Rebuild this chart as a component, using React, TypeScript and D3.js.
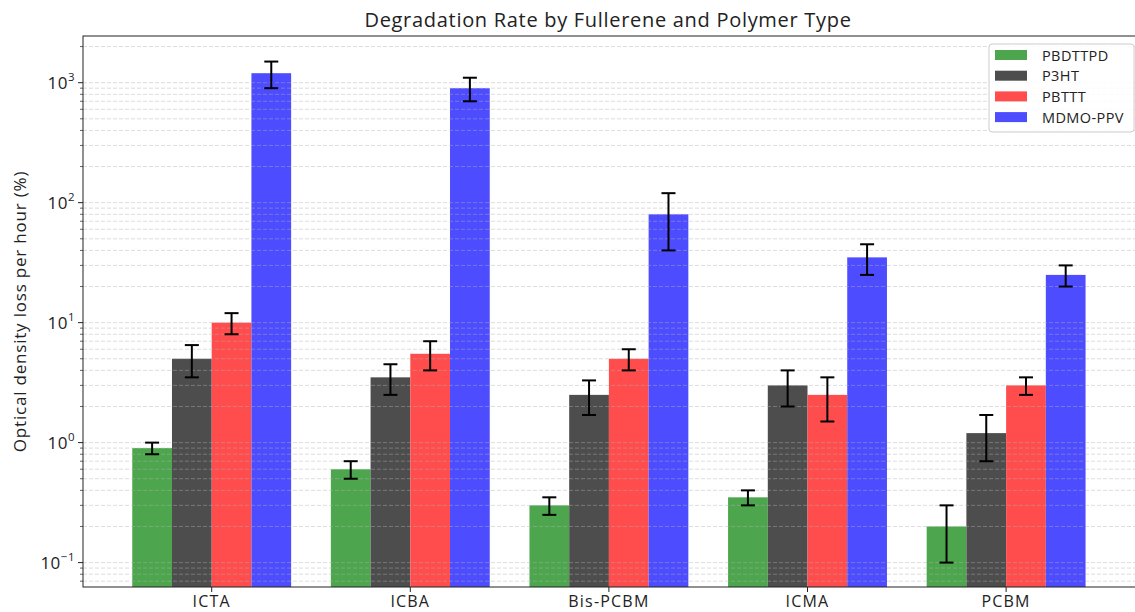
import React from "react";
import * as d3 from "d3";

const categories = ["ICTA", "ICBA", "Bis-PCBM", "ICMA", "PCBM"];
const seriesNames = ["PBDTTPD", "P3HT", "PBTTT", "MDMO-PPV"];
const seriesColors = ["#4da64d", "#4d4d4d", "#ff4d4d", "#4d4dff"];

const pbdttpdValues = [0.9, 0.6, 0.3, 0.35, 0.2];
const pbdttpdErrors = [0.1, 0.1, 0.05, 0.05, 0.1];
const p3htValues = [5, 3.5, 2.5, 3, 1.2];
const p3htErrors = [1.5, 1, 0.8, 1, 0.5];
const pbtttValues = [10, 5.5, 5, 2.5, 3];
const pbtttErrors = [2, 1.5, 1, 1, 0.5];
const mdmoValues = [1200, 900, 80, 35, 25];
const mdmoErrors = [300, 200, 40, 10, 5];

const yMajorTicks = [0.1, 1, 10, 100, 1000];
const yTickExponents = ["−1", "0", "1", "2", "3"];

const title = "Degradation Rate by Fullerene and Polymer Type";
const yLabel = "Optical density loss per hour (%)";

const seriesValues = [pbdttpdValues, p3htValues, pbtttValues, mdmoValues];
const seriesErrors = [pbdttpdErrors, p3htErrors, pbtttErrors, mdmoErrors];

const FONT = "'Open Sans', sans-serif";

export default function App() {
  const W = 1135;
  const H = 612;
  const left = 83;
  const right = 1136;
  const top = 36;
  const bottom = 587;

  const x = d3.scaleLinear().domain([-0.648, 4.654]).range([left, right]);
  const y = d3.scaleLog().domain([0.0626, 2450]).range([bottom, top]);
  const barW = 0.2;

  const gridVals: number[] = [];
  for (let e = -2; e <= 3; e++) {
    for (let m = 1; m <= 9; m++) {
      const v = m * Math.pow(10, e);
      if (v >= 0.0626 && v <= 2450) gridVals.push(v);
    }
  }

  return (
    <svg
      width={W}
      height={H}
      style={{ position: "absolute", left: 0, top: 0, background: "#fff" }}
      fontFamily={FONT}
    >
      <rect x={0} y={0} width={W} height={H} fill="#fff" />
      {seriesValues.map((vals, j) =>
        vals.map((v, i) => {
          const x0 = x(i + (j - 1.5) * barW - barW / 2);
          const x1 = x(i + (j - 1.5) * barW + barW / 2);
          return (
            <rect
              key={`b${j}-${i}`}
              x={x0}
              y={y(v)}
              width={x1 - x0}
              height={bottom - y(v)}
              fill={seriesColors[j]}
            />
          );
        })
      )}
      <g>
        {gridVals.map((v, k) => (
          <line
            key={`g${k}`}
            x1={left}
            x2={right}
            y1={y(v)}
            y2={y(v)}
            stroke="#b0b0b0"
            strokeOpacity={0.55}
            strokeWidth={0.8}
            strokeDasharray="4,2"
          />
        ))}
      </g>
      {seriesValues.map((vals, j) =>
        vals.map((v, i) => {
          const cx = x(i + (j - 1.5) * barW);
          const e = seriesErrors[j][i];
          const yt = y(v + e);
          const yb = y(v - e);
          return (
            <g key={`e${j}-${i}`} stroke="#000" strokeWidth={2}>
              <line x1={cx} x2={cx} y1={yt} y2={yb} />
              <line x1={cx - 7} x2={cx + 7} y1={yt} y2={yt} />
              <line x1={cx - 7} x2={cx + 7} y1={yb} y2={yb} />
            </g>
          );
        })
      )}
      <rect
        x={left}
        y={top}
        width={right - left}
        height={bottom - top}
        fill="none"
        stroke="#222"
        strokeWidth={1}
      />
      {gridVals.map((v, k) => {
        const major = yMajorTicks.includes(v);
        return (
          <line
            key={`yt${k}`}
            x1={left}
            x2={left - (major ? 5 : 3)}
            y1={y(v)}
            y2={y(v)}
            stroke="#222"
            strokeWidth={major ? 1 : 0.7}
          />
        );
      })}
      {yMajorTicks.map((v, k) => (
        <text
          key={`yl${k}`}
          x={left - 8}
          y={y(v) + 6}
          textAnchor="end"
          fontSize={17}
          letterSpacing={0.5}
          fill="#222"
        >
          10
          <tspan dy={-8} fontSize={11.5}>
            {yTickExponents[k]}
          </tspan>
        </text>
      ))}
      {categories.map((c, i) => (
        <g key={`xt${i}`}>
          <line x1={x(i)} x2={x(i)} y1={bottom} y2={bottom + 5} stroke="#222" />
          <text
            x={x(i)}
            y={bottom + 20}
            textAnchor="middle"
            fontSize={16}
            letterSpacing={1.2}
            fill="#222"
          >
            {c}
          </text>
        </g>
      ))}
      <text
        transform={`translate(26, ${(top + bottom) / 2}) rotate(-90)`}
        textAnchor="middle"
        fontSize={17}
        letterSpacing={0.8}
        fill="#222"
      >
        {yLabel}
      </text>
      <text
        x={(left + 1133) / 2}
        y={27}
        textAnchor="middle"
        fontSize={20}
        letterSpacing={0.7}
        fill="#222"
      >
        {title}
      </text>
      <g>
        <rect
          x={989}
          y={44}
          width={145}
          height={88}
          rx={3}
          fill="#fff"
          fillOpacity={0.85}
          stroke="#ccc"
        />
        {seriesNames.map((s, j) => (
          <g key={`lg${j}`}>
            <rect x={995} y={50 + j * 20.7} width={32} height={10} fill={seriesColors[j]} />
            <text x={1042} y={60.5 + j * 20.7} fontSize={14.5} letterSpacing={0.4} fill="#222">
              {s}
            </text>
          </g>
        ))}
      </g>
    </svg>
  );
}
